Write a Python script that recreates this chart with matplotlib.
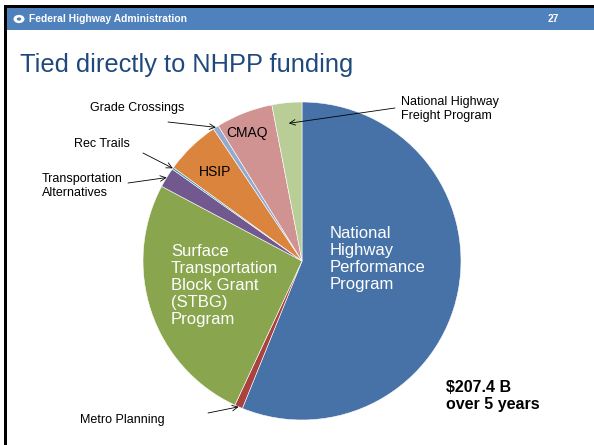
import numpy as np
import matplotlib.pyplot as plt
from matplotlib.patches import Rectangle, Circle

plt.rcParams['font.family'] = ['Liberation Sans', 'DejaVu Sans']

# FAST Act apportioned funding, billions of USD (clockwise from the top)
programs = ['National Highway Performance Program', 'Metro Planning',
            'Surface Transportation Block Grant (STBG) Program',
            'Transportation Alternatives', 'Rec Trails', 'HSIP',
            'Grade Crossings', 'CMAQ', 'National Highway Freight Program']
funding = [116.4, 1.7, 53.6, 4.2, 0.42, 11.6, 1.2, 12.0, 6.3]
colors = ['#4672A8', '#AA4340', '#89A54E', '#71588F', '#4198AF',
          '#DB843D', '#93A9CF', '#D19392', '#B9CD96']

W, H = 594, 445
fig = plt.figure(figsize=(W / 100, H / 100), dpi=100)

def px(x, y):
    return x / W, 1 - y / H

# slide frame and header band
fig.add_artist(Rectangle(px(7, 30), (W - 7) / W, 22 / H, transform=fig.transFigure,
                         facecolor='#4F81BD', edgecolor='none'))
fig.add_artist(Rectangle(px(4, 8), (W - 4) / W, 2.5 / H, transform=fig.transFigure,
                         facecolor='black', edgecolor='none'))
fig.add_artist(Rectangle(px(4, H), 2.5 / W, (H - 5) / H, transform=fig.transFigure,
                         facecolor='black', edgecolor='none'))
fig.add_artist(Circle(px(19, 19), 5.5 / W, transform=fig.transFigure,
                      facecolor='white', edgecolor='none'))
fig.add_artist(Circle(px(19, 19), 2.2 / W, transform=fig.transFigure,
                      facecolor='#4F81BD', edgecolor='none'))
fig.text(*px(29, 19), 'Federal Highway Administration', color='white',
         fontsize=7.4, fontweight='bold', va='center', ha='left')
fig.text(*px(548, 19), '27', color='white', fontsize=7.4, fontweight='bold',
         va='center', ha='left')

fig.text(*px(20, 72), 'Tied directly to NHPP funding', color='#1F497D',
         fontsize=18.3, va='baseline', ha='left')

# pie
cx, cy, r = 302, 261, 159
ax = fig.add_axes([(cx - r) / W, (H - cy - r) / H, 2 * r / W, 2 * r / H])
wedges, _ = ax.pie(funding, colors=colors, startangle=90, counterclock=False,
                   wedgeprops=dict(edgecolor='white', linewidth=0.4))
ax.set_xlim(-1, 1)
ax.set_ylim(-1, 1)
ax.axis('off')

# inside labels
fig.text(*px(330, 226), 'National\nHighway\nPerformance\nProgram', color='white',
         fontsize=12, va='top', ha='left', linespacing=1.17)
fig.text(*px(171, 244), 'Surface\nTransportation\nBlock Grant\n(STBG)\nProgram',
         color='white', fontsize=12, va='top', ha='left', linespacing=1.17)
fig.text(*px(215, 172), 'HSIP', fontsize=10, va='center', ha='center')
fig.text(*px(247, 133), 'CMAQ', fontsize=10, va='center', ha='center')

# outside labels with arrows to their wedges
def arrow_to(i, tail, rad=1.0):
    w = wedges[i]
    mid = np.deg2rad((w.theta1 + w.theta2) / 2)
    ax.annotate('', xy=(rad * np.cos(mid), rad * np.sin(mid)), xycoords='data',
                xytext=(tail[0], H - tail[1]), textcoords='figure pixels',
                arrowprops=dict(arrowstyle='->', lw=0.6, color='black',
                                shrinkA=0, shrinkB=0))

small = 9
fig.text(*px(90, 108), 'Grade Crossings', fontsize=small, va='center', ha='left')
arrow_to(6, (168, 122))
fig.text(*px(74, 144), 'Rec Trails', fontsize=small, va='center', ha='left')
arrow_to(4, (143, 153))
fig.text(*px(42, 186), 'Transportation\nAlternatives', fontsize=small,
         va='center', ha='left', linespacing=1.15)
arrow_to(3, (128, 183))
fig.text(*px(80, 420), 'Metro Planning', fontsize=small, va='center', ha='left')
arrow_to(1, (208, 413))
fig.text(*px(401, 109), 'National Highway\nFreight Program', fontsize=small,
         va='center', ha='left', linespacing=1.15)
arrow_to(8, (395, 108), rad=0.87)

fig.text(*px(446, 396), '$207.4 B\nover 5 years', fontsize=11.5, fontweight='bold',
         va='center', ha='left', linespacing=1.2)

fig.savefig('out.png', dpi=100)
